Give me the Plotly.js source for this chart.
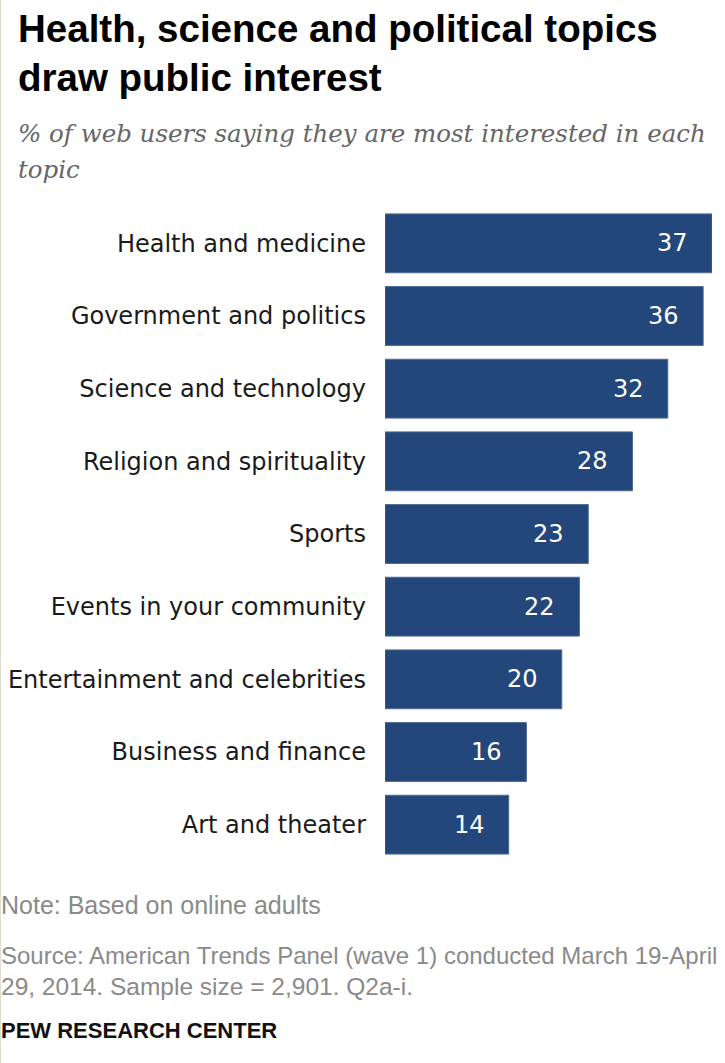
<!DOCTYPE html>
<html>
<head>
<meta charset="utf-8">
<script src="https://cdn.plot.ly/plotly-3.0.1.min.js"></script>
<style>html,body{margin:0;padding:0;background:#fff;}#chart{width:725px;height:1063px;}</style>
</head>
<body>
<div id="chart"></div>
<script>
const categories = ["Health and medicine","Government and politics","Science and technology","Religion and spirituality","Sports","Events in your community","Entertainment and celebrities","Business and finance","Art and theater"];
const values = [37,36,32,28,23,22,20,16,14];
const titleLines = ["Health, science and political topics","draw public interest"];
const subtitleLines = ["% of web users saying they are most interested in each","topic"];
const noteText = "Note: Based on online adults";
const sourceLines = ["Source: American Trends Panel (wave 1) conducted March 19-April","29, 2014. Sample size = 2,901. Q2a-i."];
const creditText = "PEW RESEARCH CENTER";

const W = 725, H = 1063;
const M = {l:385, r:13, t:207, b:202};
const pw = W - M.l - M.r, ph = H - M.t - M.b;
const px = x => (x - M.l) / pw;
const py = y => (H - M.b - y) / ph;

function txt(text, x, y, size, color, family, extra) {
  return Object.assign({text:text, xref:'paper', yref:'paper', x:px(x), y:py(y), xanchor:'left', yanchor:'middle', showarrow:false, font:{size:size, color:color, family:family}}, extra||{});
}

const anns = [];
anns.push(txt('<b>'+titleLines[0]+'</b>', 16, 28, 38.5, '#000', 'Liberation Sans'));
anns.push(txt('<b>'+titleLines[1]+'</b>', 16, 77, 38.5, '#000', 'Liberation Sans'));
anns.push(txt('<i>'+subtitleLines[0]+'</i>', 16, 133, 24.5, '#666', 'DejaVu Serif'));
anns.push(txt('<i>'+subtitleLines[1]+'</i>', 16, 170, 24.5, '#666', 'DejaVu Serif'));
anns.push(txt(noteText, -1, 905, 25, '#8a8a8a', 'Liberation Sans'));
anns.push(txt(sourceLines[0], -1, 955, 24, '#8a8a8a', 'Liberation Sans'));
anns.push(txt(sourceLines[1], -1, 986, 24.5, '#8a8a8a', 'Liberation Sans'));
anns.push(txt('<b>'+creditText+'</b>', -1, 1030, 22, '#111', 'Liberation Sans'));

values.forEach((v,i) => {
  anns.push({x:v, y:categories[i], xref:'x', yref:'y', text:String(v), showarrow:false, xanchor:'right', yanchor:'middle', xshift:-22, font:{size:24, color:'#fff', family:'DejaVu Sans'}});
});

const trace = {type:'bar', orientation:'h', x:values, y:categories, marker:{color:'#24477b', line:{color:'#4d6a96', width:1}}, hoverinfo:'none'};

const layout = {
  width:W, height:H, margin:M, paper_bgcolor:'#fff', plot_bgcolor:'#fff',
  showlegend:false, bargap:0.19,
  font:{family:'Liberation Sans', color:'#222'},
  xaxis:{range:[0,37], visible:false, fixedrange:true},
  yaxis:{autorange:'reversed', showgrid:false, zeroline:false, showline:false, ticks:'', ticklabelstandoff:18, tickfont:{family:'DejaVu Sans', size:24, color:'#1a1a1a'}, fixedrange:true},
  annotations:anns,
  shapes:[{type:'line', xref:'paper', yref:'paper', x0:px(0.5), x1:px(0.5), y0:py(0), y1:py(H), line:{color:'#dcdcd0', width:1}}]
};

Plotly.newPlot('chart', [trace], layout, {displayModeBar:false, staticPlot:true});
</script>
</body>
</html>
